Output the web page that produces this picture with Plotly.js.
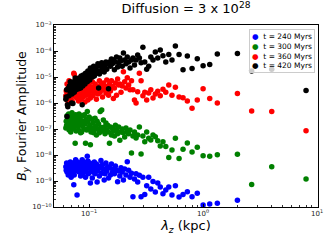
<!DOCTYPE html>
<html>
<head>
<meta charset="utf-8">
<script src="https://cdn.plot.ly/plotly-3.0.1.min.js"></script>
<style>html,body{margin:0;padding:0;background:#fff;}#chart{width:332px;height:249px;}</style>
</head>
<body>
<div id="chart"></div>
<script>
// wavelength lambda_z (kpc) for Fourier modes n = 1..128 (lambda = 8 kpc / n)
const lambdaZ = [8,4,2.667,2,1.6,1.333,1.143,1,0.8889,0.8,
0.7273,0.6667,0.6154,0.5714,0.5333,0.5,0.4706,0.4444,0.4211,0.4,
0.381,0.3636,0.3478,0.3333,0.32,0.3077,0.2963,0.2857,0.2759,0.2667,
0.2581,0.25,0.2424,0.2353,0.2286,0.2222,0.2162,0.2105,0.2051,0.2,
0.1951,0.1905,0.186,0.1818,0.1778,0.1739,0.1702,0.1667,0.1633,0.16,
0.1569,0.1538,0.1509,0.1481,0.1455,0.1429,0.1404,0.1379,0.1356,0.1333,
0.1311,0.129,0.127,0.125,0.1231,0.1212,0.1194,0.1176,0.1159,0.1143,
0.1127,0.1111,0.1096,0.1081,0.1067,0.1053,0.1039,0.1026,0.1013,0.1,
0.09877,0.09756,0.09639,0.09524,0.09412,0.09302,0.09195,0.09091,0.08989,0.08889,
0.08791,0.08696,0.08602,0.08511,0.08421,0.08333,0.08247,0.08163,0.08081,0.08,
0.07921,0.07843,0.07767,0.07692,0.07619,0.07547,0.07477,0.07407,0.07339,0.07273,
0.07207,0.07143,0.0708,0.07018,0.06957,0.06897,0.06838,0.0678,0.06723,0.06667,
0.06612,0.06557,0.06504,0.06452,0.064,0.06349,0.06299,0.0625];

const amp240 = [null,null,null,1.8e-10,null,1.4e-10,1.3e-10,1.2e-10,3.4e-10,2.5e-10,
3.9e-10,3.0e-10,2.4e-10,6.5e-10,2.9e-10,5.9e-10,4.5e-10,3.2e-10,5.9e-10,8.3e-10,
3.8e-10,9.5e-10,4.9e-10,1.4e-9,6.5e-10,3.0e-10,1.4e-9,2.5e-10,1.65e-9,9.1e-10,
1.9e-9,1.2e-9,2.5e-10,2.0e-9,1.4e-9,2.6e-9,5.5e-9,1.7e-9,2.9e-9,1.1e-9,
2.2e-9,3.2e-9,1.55e-9,2.4e-9,9.3e-10,2.6e-9,3.8e-9,1.9e-9,2.9e-9,2.2e-9,
4.5e-9,1.7e-9,3.2e-9,1.3e-9,3.5e-9,2.4e-9,4.9e-9,1.9e-9,1.1e-9,2.9e-9,
4.2e-9,2.0e-9,6.2e-9,3.2e-9,1.55e-9,3.8e-9,2.4e-9,9.1e-10,4.5e-9,2.9e-9,
1.9e-9,5.4e-9,3.5e-9,2.2e-9,1.3e-9,4.2e-9,2.6e-9,8.3e-10,4.9e-9,3.2e-9,
1.9e-9,5.9e-9,8.9e-9,3.8e-9,2.4e-9,1.4e-9,4.5e-9,2.9e-9,5.4e-9,2.0e-9,
3.5e-9,6.5e-9,2.4e-9,4.2e-9,1.55e-9,3.2e-9,4.9e-9,2.2e-9,3.8e-9,2.6e-9,
5.4e-9,2.9e-10,3.5e-9,4.5e-9,6.5e-9,2.4e-9,3.8e-9,1.7e-9,7.1e-10,3.2e-9,
4.9e-9,2.2e-9,2.6e-9,4.2e-9,1.4e-9,2.9e-9,5.4e-9,2.0e-9,3.5e-9,2.4e-9,
4.5e-9,1.7e-9,3.2e-9,3.8e-9,2.2e-9,4.9e-9,2.6e-9,3.5e-9];

const amp300 = [1.2e-9,3.5e-9,7.4e-10,1.07e-8,null,1.03e-8,8.9e-9,9.4e-9,2.0e-8,1.3e-8,
2.9e-8,1.65e-8,7.4e-9,4.4e-8,1.55e-8,8.1e-9,2.1e-8,3.2e-8,2.2e-8,3.5e-8,
5.0e-8,5.9e-8,3.8e-8,4.4e-8,7.6e-8,3.2e-8,5.4e-8,1.1e-8,1.2e-7,5.9e-8,
4.5e-8,7.6e-8,5.4e-8,1.2e-8,9.1e-8,6.5e-8,7.6e-8,1.1e-7,4.9e-8,7.1e-8,
1.0e-7,7.6e-8,3.7e-8,1.2e-7,6.5e-8,9.1e-8,1.4e-7,5.4e-8,8.3e-8,1.1e-7,
5.9e-8,1.2e-7,2.8e-8,7.6e-8,1.4e-7,9.1e-8,1.7e-7,6.5e-8,1.2e-7,2.2e-7,
8.3e-8,5.4e-7,1.15e-7,4.7e-7,7.1e-8,1.55e-7,1.0e-7,2.0e-7,5.9e-8,1.3e-7,
2.6e-7,9.1e-8,7.1e-8,1.7e-7,1.1e-7,2.4e-7,7.6e-8,2.5e-8,1.4e-7,2.9e-7,
1.1e-7,1.9e-7,4.7e-7,9.1e-8,2.4e-7,2.8e-8,1.55e-7,3.5e-7,1.0e-7,2.0e-7,
1.3e-7,3.2e-7,7.6e-8,1.9e-7,7.1e-8,2.6e-7,1.4e-7,3.8e-7,9.1e-8,2.2e-7,
1.3e-7,3.2e-7,1.7e-7,8.3e-8,3.5e-7,2.8e-8,2.2e-7,1.2e-7,2.9e-7,1.55e-7,
1.0e-7,2.4e-7,4.2e-7,1.1e-7,1.9e-7,7.6e-8,3.2e-7,1.4e-7,2.4e-7,9.1e-8,
3.8e-7,1.7e-7,1.2e-7,2.4e-7,3.2e-7,1.4e-7,2.0e-7,1.1e-7];

const amp360 = [8.5e-8,4.7e-7,4.9e-7,2.3e-6,null,1.0e-6,1.5e-6,3.5e-6,1.3e-6,6.3e-7,
1.2e-6,1.6e-6,1.7e-6,4.0e-6,2.0e-6,4.9e-6,2.6e-6,3.4e-6,1.9e-6,2.8e-6,
2.2e-6,1.55e-6,3.2e-6,2.4e-6,1.3e-6,2.6e-6,1.9e-6,7.2e-6,1.4e-5,2.7e-6,
1.0e-6,1.3e-6,3.2e-6,7.2e-6,3.2e-6,4.9e-6,9.3e-6,3.8e-6,6.5e-6,1.6e-5,
4.5e-6,2.6e-6,5.4e-6,4.9e-6,8.3e-6,2.0e-6,5.9e-6,3.8e-6,1.5e-6,4.3e-6,
7.1e-6,2.9e-6,5.4e-6,2.0e-6,3.8e-6,7.6e-6,2.4e-6,4.5e-6,3.2e-6,5.9e-6,
1.7e-6,3.5e-6,4.9e-6,2.6e-6,7.1e-6,3.8e-6,2.2e-6,4.5e-6,1.4e-6,3.2e-6,
5.4e-6,2.4e-6,3.8e-6,1.9e-6,6.5e-6,2.9e-6,4.2e-6,1.55e-6,3.5e-6,2.2e-6,
4.9e-6,1.3e-6,3.2e-6,5.9e-6,2.0e-6,3.8e-6,1.1e-6,2.6e-6,4.5e-6,1.7e-6,
3.2e-6,7.1e-6,2.4e-6,1.4e-6,3.8e-6,2.0e-6,5.4e-6,2.9e-6,1.2e-6,4.2e-6,
2.2e-6,6.5e-6,1.55e-6,3.5e-6,9.1e-6,2.4e-6,4.9e-6,1.25e-5,1.4e-5,1.9e-6,
3.8e-6,1.1e-6,5.9e-6,2.6e-6,1.4e-6,4.5e-6,2.0e-6,1.0e-6,3.2e-6,7.1e-6,
1.7e-6,3.8e-6,1.2e-6,2.4e-6,5.4e-6,1.4e-6,2.9e-6,1.9e-6];

const amp420 = [3.0e-6,2.0e-5,1.7e-5,8.1e-5,null,7.6e-5,3.0e-5,2.7e-5,5.0e-5,2.1e-5,
6.4e-5,1.9e-5,7.4e-5,1.55e-4,4.5e-5,7.4e-5,3.8e-5,6.5e-5,1.1e-4,5.4e-5,
9.1e-5,4.5e-5,5.9e-5,2.6e-5,2.0e-5,3.8e-5,1.4e-4,3.5e-5,5.4e-5,7.0e-5,
4.5e-5,2.9e-5,5.4e-5,4.5e-5,2.2e-5,3.8e-5,5.9e-5,3.2e-5,4.5e-5,8.3e-5,
2.6e-5,4.2e-5,5.4e-5,3.5e-5,2.4e-5,5.9e-5,3.8e-5,1.9e-5,4.5e-5,3.2e-5,
4.9e-5,2.6e-5,3.8e-5,3.5e-6,3.2e-5,2.0e-5,3.8e-5,2.4e-5,1.55e-5,2.9e-5,
2.2e-5,3.5e-5,1.7e-5,2.6e-5,1.3e-5,3.8e-6,3.2e-5,1.7e-5,2.4e-5,1.4e-5,
2.0e-5,1.1e-5,2.6e-5,1.55e-5,1.0e-5,1.9e-5,1.2e-5,2.2e-5,7.6e-6,1.4e-5,
9.1e-6,1.7e-5,6.5e-6,1.2e-5,8.3e-6,1.4e-5,5.4e-6,1.0e-5,7.6e-6,1.2e-5,
4.5e-6,8.5e-7,6.5e-6,1.1e-5,3.8e-6,7.6e-6,5.4e-6,9.1e-6,3.5e-6,6.5e-6,
8.3e-6,4.5e-6,7.1e-6,3.2e-6,5.9e-6,9.1e-6,4.2e-6,2.6e-6,6.5e-6,4.9e-6,
9.5e-7,3.5e-6,2.2e-6,1.0e-6,5.4e-6,3.8e-6,6.5e-6,2.9e-6,4.5e-6,1.9e-6,
3.7e-6,3.5e-6,7.1e-7,8.5e-7,3.0e-7,3.2e-6,1.7e-6,1.4e-6];

const seriesNames = ["t = 240 Myrs","t = 300 Myrs","t = 360 Myrs","t = 420 Myrs"];
const seriesColors = ["#0000ff","#008000","#ff0000","#000000"];
const seriesValues = [amp240, amp300, amp360, amp420];

const xTickVals = [0.1, 1, 10];
const xTickText = ["10<sup>\u22121</sup>","10<sup>0</sup>","10<sup>1</sup>"];
const yTickVals = [1e-10,1e-9,1e-8,1e-7,1e-6,1e-5,1e-4,1e-3];
const yTickText = ["10<sup>\u221210</sup>","10<sup>\u22129</sup>","10<sup>\u22128</sup>","10<sup>\u22127</sup>","10<sup>\u22126</sup>","10<sup>\u22125</sup>","10<sup>\u22124</sup>","10<sup>\u22123</sup>"];

const FONT = "DejaVu Sans, Liberation Sans, sans-serif";

const traces = seriesValues.map((vals, i) => ({
  type: "scatter",
  mode: "markers",
  name: seriesNames[i],
  x: lambdaZ,
  y: vals,
  showlegend: false,
  marker: {color: seriesColors[i], size: 5.5, line: {width: 0}}
}));

const legendText = seriesNames.map((nm, i) =>
  '<span style="color:' + seriesColors[i] + '">\u25CF</span>  ' + nm).join("<br>");

const axisCommon = {
  type: "log",
  showline: true, linecolor: "#000", linewidth: 1, mirror: true,
  ticks: "inside", ticklen: 3.5, tickwidth: 1, tickcolor: "#000",
  tickmode: "array",
  showgrid: false, zeroline: false,
  tickfont: {family: FONT, size: 7, color: "#222"},
  minor: {ticks: "inside", ticklen: 2, tickwidth: 0.8, tickcolor: "#000", showgrid: false, dtick: "D1"}
};

const layout = {
  width: 332, height: 249,
  margin: {l: 54, r: 14, t: 25, b: 42},
  paper_bgcolor: "#fff", plot_bgcolor: "#fff",
  font: {family: FONT, color: "#000"},
  title: {text: "Diffusion = 3 x 10<sup>28</sup>", font: {family: FONT, size: 13, color: "#000"},
          x: 0.5, xref: "paper", xanchor: "center", y: 0.965, yref: "container", yanchor: "middle"},
  xaxis: Object.assign({}, axisCommon, {
    range: [-1.308, 1.008],
    tickvals: xTickVals, ticktext: xTickText,
    title: {text: "<i>\u03BB</i><sub><i>z</i></sub> (kpc)", font: {family: FONT, size: 13}, standoff: 2}
  }),
  yaxis: Object.assign({}, axisCommon, {
    range: [-10, -3],
    tickvals: yTickVals, ticktext: yTickText,
    title: {text: "<i>B</i><sub><i>y</i></sub> Fourier Amplitude", font: {family: FONT, size: 12.5}, standoff: 2}
  }),
  annotations: [{
    xref: "paper", yref: "paper", x: 0.989, y: 0.978, xanchor: "right", yanchor: "top",
    text: legendText, align: "left", showarrow: false,
    font: {family: FONT, size: 7.5, color: "#000"},
    bgcolor: "rgba(255,255,255,0.8)", bordercolor: "#cccccc", borderwidth: 1, borderpad: 2
  }]
};

Plotly.newPlot("chart", traces, layout, {staticPlot: true, displayModeBar: false});
</script>
</body>
</html>
